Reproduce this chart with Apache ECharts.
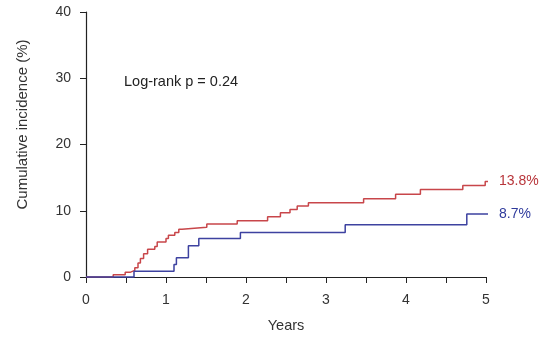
<!DOCTYPE html>
<html>
<head>
<meta charset="utf-8">
<script src="https://cdn.jsdelivr.net/npm/echarts@6/dist/echarts.min.js"></script>
<style>
  html, body { margin: 0; padding: 0; background: #fff; }
  #chart { width: 544px; height: 338px; }
</style>
</head>
<body>
<div id="chart"></div>
<script>
// cumulative incidence (%), step curves
const redTimes = [0, 0.34, 0.49, 0.55, 0.61, 0.65, 0.68, 0.72, 0.77, 0.86, 0.89, 1.0, 1.03, 1.11, 1.16, 1.2, 1.51, 1.89, 2.27, 2.43, 2.55, 2.64, 2.78, 3.47, 3.87, 4.18, 4.71, 4.99, 5.05]
const redValues = [0, 0.35, 0.7, 1.0, 1.4, 2.1, 2.8, 3.5, 4.2, 4.6, 5.3, 5.8, 6.3, 6.7, 7.2, 7.5, 8.0, 8.5, 9.1, 9.7, 10.2, 10.7, 11.2, 11.8, 12.5, 13.2, 13.8, 14.4, 14.4]
const blueTimes = [0, 0.6, 1.1, 1.13, 1.28, 1.41, 1.93, 3.24, 4.76, 5.05]
const blueValues = [0, 0.85, 1.9, 2.9, 4.7, 5.8, 6.7, 7.9, 9.5, 9.5]
const endLabels = ['13.8%', '8.7%']
const annotation = 'Log-rank p = 0.24'

const FONT = 'Liberation Sans, Arial, sans-serif'
const RED = '#c8464a'
const BLUE = '#3d42a0'

function pairs(xs, ys) {
  return xs.map((x, i) => [x, ys[i]])
}

const chart = echarts.init(document.getElementById('chart'))

function curve(name, data, color, labelColor, text) {
  return {
    name: name,
    type: 'line',
    step: 'end',
    data: data,
    symbol: 'none',
    clip: false,
    lineStyle: { color: color, width: 1.5 },
    itemStyle: { color: color },
    endLabel: {
      show: true,
      formatter: text,
      distance: 11,
      color: labelColor,
      fontFamily: FONT,
      fontSize: 14,
    },
  }
}

chart.setOption({
  animation: false,
  title: {
    text: annotation,
    left: 119,
    top: 69,
    textStyle: { fontFamily: FONT, fontSize: 14.5, fontWeight: 'normal', color: '#222' },
  },
  grid: { left: 86, right: 58, top: 12, bottom: 59 },
  xAxis: {
    type: 'value',
    min: 0,
    max: 5,
    interval: 1,
    name: 'Years',
    nameLocation: 'middle',
    nameGap: 41,
    nameTextStyle: { fontFamily: FONT, fontSize: 14.5, color: '#333' },
    splitLine: { show: false },
    axisLine: { lineStyle: { color: '#222', width: 1.2 } },
    axisTick: { length: 6, lineStyle: { color: '#222' } },
    minorTick: { show: true, splitNumber: 2, length: 6, lineStyle: { color: '#222' } },
    axisLabel: { margin: 16, fontFamily: FONT, fontSize: 14, color: '#333' },
  },
  yAxis: {
    type: 'value',
    min: 0,
    max: 40,
    interval: 10,
    name: 'Cumulative incidence (%)',
    nameLocation: 'middle',
    nameGap: 56,
    nameTextStyle: { fontFamily: FONT, fontSize: 15, color: '#333', padding: [0, 0, 0, 40] },
    splitLine: { show: false },
    axisLine: { show: true, lineStyle: { color: '#222', width: 1.2 } },
    axisTick: { show: true, length: 6, lineStyle: { color: '#222' } },
    axisLabel: { margin: 15, fontFamily: FONT, fontSize: 14, color: '#333' },
  },
  series: [
    curve('red', pairs(redTimes, redValues), RED, '#b8353a', endLabels[0]),
    curve('blue', pairs(blueTimes, blueValues), BLUE, '#2f3a9c', endLabels[1]),
  ],
})
</script>
</body>
</html>
